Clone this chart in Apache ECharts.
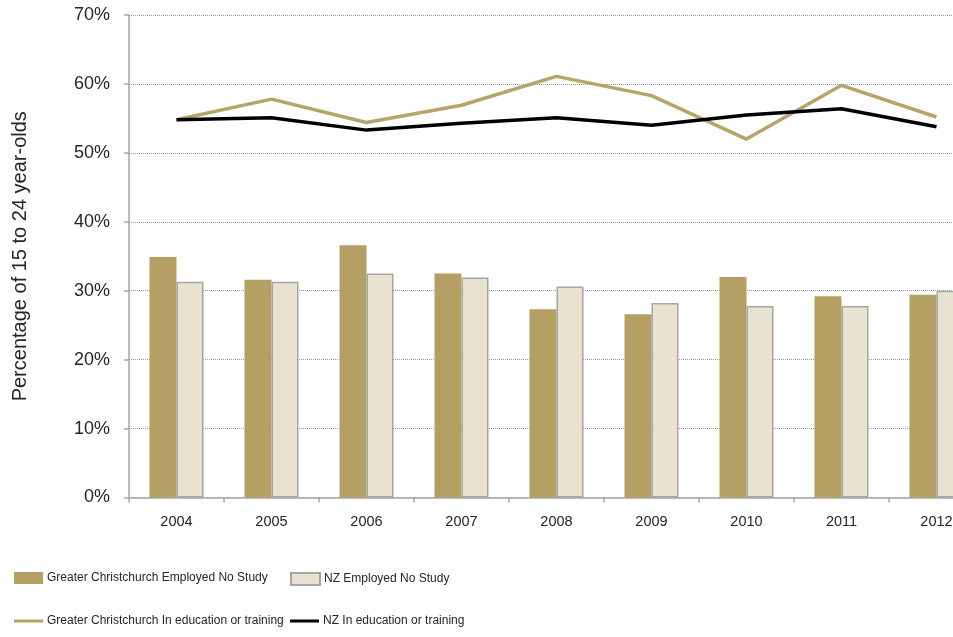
<!DOCTYPE html>
<html>
<head>
<meta charset="utf-8">
<script src="https://cdn.jsdelivr.net/npm/echarts@6/dist/echarts.min.js"></script>
<style>
  html, body { margin: 0; padding: 0; background: #fff; }
  #chart { width: 953px; height: 637px; }
</style>
</head>
<body>
<div id="chart"></div>
<script>
// data (percent)
const years = ['2004', '2005', '2006', '2007', '2008', '2009', '2010', '2011', '2012'];
const chchEmployed = [34.9, 31.6, 36.6, 32.5, 27.3, 26.6, 32.0, 29.2, 29.4];
const nzEmployed = [31.3, 31.3, 32.5, 31.9, 30.6, 28.2, 27.8, 27.8, 30.0];
const chchEducation = [54.8, 57.8, 54.4, 56.9, 61.1, 58.3, 52.0, 59.8, 55.2];
const nzEducation = [54.8, 55.1, 53.3, 54.3, 55.1, 54.0, 55.5, 56.4, 53.8];
const yTicks = [0, 10, 20, 30, 40, 50, 60, 70];

const gold = '#B4A063';
const cream = '#E8E2D1';
const axisGray = '#A6A6A6';
const sans = '"Liberation Sans", Arial, sans-serif';

function legendItem(name, left, top, isLine) {
  return {
    data: [name],
    left: left,
    top: top,
    orient: 'horizontal',
    itemWidth: 29,
    itemHeight: isLine ? 3 : 12,
    icon: 'rect',
    itemGap: 0,
    selectedMode: false,
    padding: 0,
    textStyle: { fontFamily: sans, fontSize: 12, color: '#262626', padding: [0, 0, 0, -1] }
  };
}

const option = {
  animation: false,
  grid: { left: 129, top: 15, width: 855, height: 482.5, containLabel: false, outerBoundsMode: 'none' },
  legend: [
    legendItem('Greater Christchurch Employed No Study', 14, 572, false),
    legendItem('NZ Employed No Study', 290, 572, false),
    legendItem('Greater Christchurch In education or training', 14, 615, true),
    legendItem('NZ In education or training', 290, 615, true)
  ],
  xAxis: {
    type: 'category',
    data: years,
    axisLine: { lineStyle: { color: axisGray, width: 1.5 } },
    axisTick: { show: true, length: 5, lineStyle: { color: axisGray, width: 1.5 } },
    axisLabel: { margin: 17, fontFamily: sans, fontSize: 14.5, color: '#262626' }
  },
  yAxis: {
    type: 'value',
    min: yTicks[0],
    max: yTicks[yTicks.length - 1],
    interval: 10,
    name: 'Percentage of 15 to 24 year-olds',
    nameLocation: 'middle',
    nameGap: 99,
    nameTextStyle: { fontFamily: sans, fontSize: 20, color: '#262626' },
    axisLine: { show: true, lineStyle: { color: axisGray, width: 1.5 } },
    axisTick: { show: true, length: 5, lineStyle: { color: axisGray, width: 1.5 } },
    axisLabel: {
      margin: 19,
      formatter: '{value}%',
      fontFamily: sans,
      fontSize: 18,
      color: '#262626'
    },
    splitLine: { show: true, lineStyle: { color: '#999', type: 'dotted', width: 1 } }
  },
  series: [
    {
      name: 'Greater Christchurch Employed No Study',
      type: 'bar',
      data: chchEmployed,
      barWidth: 27,
      barGap: '0%',
      itemStyle: { color: gold }
    },
    {
      name: 'NZ Employed No Study',
      type: 'bar',
      data: nzEmployed,
      barWidth: 27,
      barGap: '0%',
      itemStyle: { color: cream, borderColor: axisGray, borderWidth: 1.5 }
    },
    {
      name: 'Greater Christchurch In education or training',
      type: 'line',
      data: chchEducation,
      symbol: 'none',
      z: 5,
      itemStyle: { color: '#B8A466' },
      lineStyle: { color: '#B8A466', width: 3.5 }
    },
    {
      name: 'NZ In education or training',
      type: 'line',
      data: nzEducation,
      symbol: 'none',
      z: 5,
      itemStyle: { color: '#000' },
      lineStyle: { color: '#000', width: 3.5 }
    }
  ]
};

const chart = echarts.init(document.getElementById('chart'));
chart.setOption(option);
</script>
</body>
</html>
